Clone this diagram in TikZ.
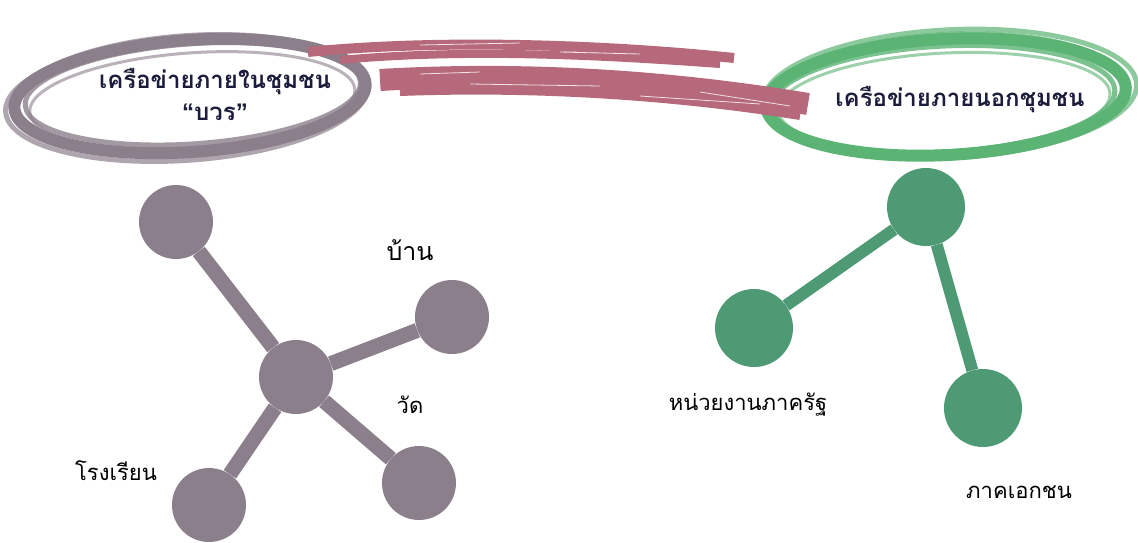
\documentclass[tikz,border=0pt]{standalone}
\usepackage{fontspec}
\newfontfamily\thaifont[Script=Thai]{Loma}
\newfontfamily\quotefont{Liberation Sans}
\usepackage{tikz}
\usetikzlibrary{positioning}
\definecolor{netgray}{HTML}{8B7F8B}
\definecolor{netgreen}{HTML}{4E9A75}
\definecolor{ringgreen}{HTML}{5BB374}
\definecolor{brushpink}{HTML}{B5697A}
\definecolor{titlenavy}{HTML}{1C1C3C}
\tikzset{
x=1pt, y=-1pt, % one unit is one pixel of the reference, y points down
dot/.style={circle, inner sep=0pt, minimum size=74pt}, % the network nodes
graydot/.style={dot, fill=netgray},
greendot/.style={dot, fill=netgreen, minimum size=78pt},
grayline/.style={netgray, line width=15pt},
greenline/.style={netgreen, line width=12pt},
label/.style={font=\thaifont\fontsize{22}{26}\selectfont, text=black},
title/.style={font=\thaifont\bfseries\fontsize{24}{32}\selectfont, text=titlenavy, align=center},
brush/.style={line cap=butt, line join=round},
}

\begin{document}
\begin{tikzpicture}
    \useasboundingbox (0,0) rectangle (1138,542);
    % inner ring
    \begin{scope}[shift={(190,96)}, rotate=4]
        \foreach \dx/\dy/\rx/\ry/\w/\o in {0/0/176/56/12/1, 3/-2/168/50/5/0.8, -4/3/181/61/5/0.7, 2/5/163/48/3/0.6, -2/-4/173/58/2/0.7}
            \draw[netgray, line width=\w pt, opacity=\o] (\dx,\dy) ellipse [x radius=\rx, y radius=\ry];
    \end{scope}
    % outer ring
    \begin{scope}[shift={(946,97)}, rotate=3]
        \foreach \dx/\dy/\rx/\ry/\w/\o in {0/0/180/58/12/1, -3/2/172/53/5/0.8, 4/-3/187/64/5/0.7, -2/5/166/49/3/0.6, 2/-4/177/60/2/0.7}
            \draw[ringgreen, line width=\w pt, opacity=\o] (\dx,\dy) ellipse [x radius=\rx, y radius=\ry];
    \end{scope}
    % brush stroke between the two rings
    \draw[brush, brushpink, line width=10pt] (308,52) .. controls (450,38) and (620,46) .. (734,58);
    \draw[brush, brushpink, line width=8pt] (340,60) .. controls (470,48) and (610,56) .. (720,64);
    \draw[brush, brushpink, line width=22pt] (380,80) .. controls (550,70) and (700,86) .. (808,104);
    \draw[brush, brushpink, line width=8pt] (400,92) .. controls (560,86) and (700,100) .. (800,116);
    \draw[white, line width=0.8pt, opacity=0.8] (420,45) -- (520,43) (560,52) -- (640,54) (470,84) -- (600,86) (640,96) -- (760,104) (420,74) -- (480,72) (700,92) -- (790,106);
    \node[title] (inner) at (215,94) {เครือข่ายภายในชุมชน\\{\quotefont\bfseries “}บวร{\quotefont\bfseries ”}};
    \node[title] (outer) at (960,100) {เครือข่ายภายนอกชุมชน};

    % network inside the community
    \node[graydot] (hub) at (296,377) {};
    \node[graydot] (top) at (176,222) {};
    \node[graydot] (home) at (452,317) {};
    \node[graydot] (temple) at (419,483) {};
    \node[graydot] (school) at (209,505) {};
    \draw[grayline] (hub) -- (top);
    \draw[grayline] (hub) -- (home);
    \draw[grayline] (hub) -- (temple);
    \draw[grayline] (hub) -- (school);
    \node[label, font=\thaifont\fontsize{25}{28}\selectfont] (homelabel) at (410,250) {บ้าน};
    \node[label] (templelabel) at (410,405) {วัด};
    \node[label] (schoollabel) at (116,471) {โรงเรียน};

    % network outside the community
    \node[greendot] (link) at (926,207) {};
    \node[greendot] (state) at (754,328) {};
    \node[greendot] (private) at (983,408) {};
    \draw[greenline] (link) -- (state);
    \draw[greenline] (link) -- (private);
    \node[label] (statelabel) at (748,405) {หน่วยงานภาครัฐ};
    \node[label] (privatelabel) at (1019,492) {ภาคเอกชน};
\end{tikzpicture}
\end{document}
